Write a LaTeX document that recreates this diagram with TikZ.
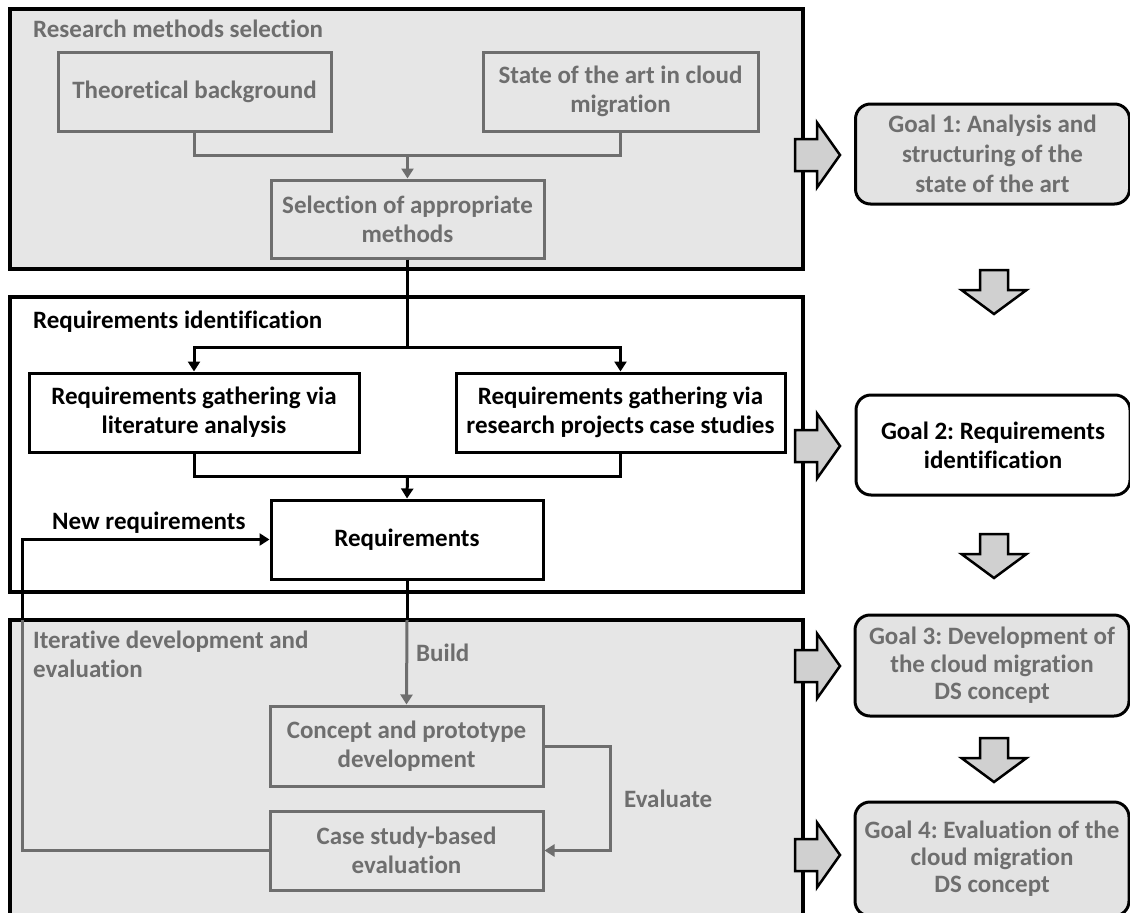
\documentclass[tikz,border=0pt]{standalone}
\usepackage{fontspec}
\setmainfont{Carlito}[Ligatures=NoCommon]
\usetikzlibrary{arrows.meta}
\frenchspacing

\definecolor{frameback}{HTML}{E6E6E6}
\definecolor{greyink}{HTML}{6E6E6E}
\definecolor{goalfill}{HTML}{E3E3E3}
\definecolor{arrowfill}{HTML}{D0D0D0}

\begin{document}
\begin{tikzpicture}[x=1pt,y=-1pt,
  every node/.style={font=\bfseries\fontsize{25}{29}\selectfont, inner sep=2pt},
  frame/.style={draw=black, line width=3.5pt},
  gbox/.style={draw=greyink, line width=3pt, text=greyink, align=center, inner sep=0pt},
  kbox/.style={draw=black, line width=3pt, fill=white, align=center, inner sep=0pt},
  goal/.style={draw=black, line width=3pt, rounded corners=15pt, align=center, inner sep=0pt,
               minimum width=274pt},
  label/.style={anchor=west, align=left},
  gline/.style={draw=greyink, line width=3pt},
  kline/.style={draw=black, line width=3pt},
  tip/.style={-{Triangle[width=12pt,length=10pt]}},
  blockarrow/.style={draw=black, line width=2.5pt, line join=miter, fill=arrowfill},
  rblock/.pic={\path[blockarrow,pic actions] (-45,-16) -- (-23,-16) -- (-23,-32.5) -- (0,0)
                 -- (-23,32.5) -- (-23,16) -- (-45,16) -- cycle;},
  dblock/.pic={\path[blockarrow,pic actions] (-14,-44) -- (14,-44) -- (14,-24) -- (32.5,-24)
                 -- (0,0) -- (-32.5,-24) -- (-14,-24) -- (-14,-44) -- cycle;},
]
\useasboundingbox (0,0) rectangle (1130,913);

% the three phase frames
\path[frame, fill=frameback] (10,9) rectangle (803,269);
\path[frame, fill=white] (10,297) rectangle (803,592);
\path[frame, fill=frameback] (10,620) rectangle (803,940);

% frame titles and edge labels
\node[label, text=greyink] (t1) at (31,29) {Research methods selection};
\node[label] (t2) at (31,322) {Requirements identification};
\node[label, text=greyink] (t3) at (31,654) {Iterative development and\\evaluation};
\node[label] (nr) at (50,523) {New requirements};
\node[label, text=greyink] (bl) at (414,653) {Build};
\node[label, text=greyink] (ev) at (622,799) {Evaluate};

% research methods selection
\node[gbox, minimum width=273pt, minimum height=79pt] (tb) at (194.5,91.5) {Theoretical background};
\node[gbox, minimum width=275pt, minimum height=79pt] (sota) at (620.5,91.5) {State of the art in cloud\\migration};
\node[gbox, minimum width=273pt, minimum height=78pt] (sel) at (407.5,219) {Selection of appropriate\\methods};

% requirements identification
\node[kbox, minimum width=330pt, minimum height=79pt] (rl) at (194,412.5) {Requirements gathering via\\literature analysis};
\node[kbox, minimum width=329pt, minimum height=79pt] (rr) at (620.5,412.5) {Requirements gathering via\\research projects case studies};
\node[kbox, minimum width=272pt, minimum height=79pt] (req) at (407,539.5) {Requirements};

% iterative development and evaluation
\node[gbox, minimum width=273pt, minimum height=80pt] (cp) at (406.5,746) {Concept and prototype\\development};
\node[gbox, minimum width=273pt, minimum height=79pt] (cs) at (406.5,850.5) {Case study-based\\evaluation};

% junctions of the connectors
\coordinate (j1) at (407.5,155);
\coordinate (j2) at (407.5,347);
\coordinate (j3) at (407.5,476);
\coordinate (j4) at (407,620);
\coordinate (j5) at (22,620);

% connectors
\draw[gline] (tb.south) |- (j1);
\draw[gline] (sota.south) |- (j1);
\draw[gline, tip] (j1) -- (sel.north);
\draw[kline] (sel.south) -- (j2);
\draw[kline, tip] (j2) -| (rl.north);
\draw[kline, tip] (j2) -| (rr.north);
\draw[kline] (rl.south) |- (j3);
\draw[kline] (rr.south) |- (j3);
\draw[kline, tip] (j3) -- (req.north);
\draw[kline] (req.south) -- (j4);
\draw[gline, tip] (j4) -- (cp.north);
\draw[gline, tip] (cp.east) -- ++(66,0) |- (cs.east);
\draw[gline] (cs.west) -| (j5);
\draw[kline, tip] (j5) |- (req.west);

% goals
\node[goal, fill=goalfill, text=greyink, minimum height=100pt,
      font=\bfseries\fontsize{25}{30}\selectfont] (g1) at (992.5,154) {Goal 1: Analysis and\\structuring of the\\state of the art};
\node[goal, fill=white, minimum height=100pt] (g2) at (993,445) {Goal 2: Requirements\\identification};
\node[goal, fill=goalfill, text=greyink, minimum height=101pt,
      font=\bfseries\fontsize{25}{27.5}\selectfont] (g3) at (992,665.5) {Goal 3: Development of\\the cloud migration\\DS concept};
\node[goal, fill=goalfill, text=greyink, minimum height=114pt,
      font=\bfseries\fontsize{25}{27}\selectfont] (g4) at (992,859) {Goal 4: Evaluation of the\\cloud migration\\DS concept};

% block arrows from phases to goals and between goals
\pic at (840,155) {rblock};
\pic[fill=white] at (840,446) {rblock};
\pic at (840,666) {rblock};
\pic at (840,855) {rblock};
\pic at (994,314) {dblock};
\pic at (994,578) {dblock};
\pic at (994,782) {dblock};
\end{tikzpicture}
\end{document}
